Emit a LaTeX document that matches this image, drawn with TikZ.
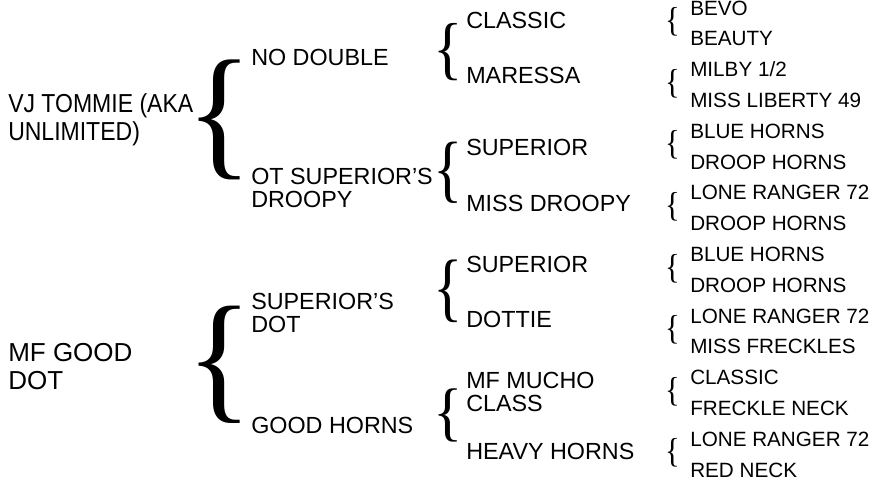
\documentclass[tikz,border=0pt]{standalone}
\usepackage{graphicx}
\usepackage{fontspec}
\setmainfont{Liberation Sans}
\newfontfamily\narrowsans[FakeStretch=0.885]{Liberation Sans}
\newfontfamily\bracefont{Liberation Serif}

\tikzset{
    rootname/.style={anchor=north west, inner sep=0pt, align=left, font=\fontsize{19.5}{21}\selectfont},
    parentname/.style={anchor=base west, inner sep=0pt, align=left, font=\fontsize{17.5}{17}\selectfont},
    greatname/.style={anchor=base west, inner sep=0pt, font=\fontsize{15.5}{16}\selectfont},
    curly/.style={inner sep=0pt, font=\bracefont\fontsize{20}{20}\selectfont}
}
% brace glyph stretched to box width / total height
\newcommand{\curlyglyph}[2]{\resizebox*{#1}{#2}{\{}}

\begin{document}
\begin{tikzpicture}[x=0.75pt,y=-0.75pt]
    \useasboundingbox (0,0) rectangle (882,486);
    % the two horses
    \node[rootname, font=\narrowsans\fontsize{19.5}{21}\selectfont] (tommie) at (8,93) {VJ TOMMIE (AKA\\UNLIMITED)};
    \node[rootname] (gooddot) at (8,343) {MF GOOD\\DOT};
    % sires and dams
    \node[parentname] (nodouble) at (251,65) {NO DOUBLE};
    \node[parentname, anchor=north west] (otdroopy) at (251,168) {OT SUPERIOR'S\\DROOPY};
    \node[parentname, anchor=north west] (supdot) at (251,293) {SUPERIOR'S\\DOT};
    \node[parentname] (goodhorns) at (251,433) {GOOD HORNS};
    % grandparents
    \node[parentname] (classic) at (466,28) {CLASSIC};
    \node[parentname] (maressa) at (466,83) {MARESSA};
    \node[parentname] (superiorA) at (466,155) {SUPERIOR};
    \node[parentname] (missdroopy) at (466,211) {MISS DROOPY};
    \node[parentname] (superiorB) at (466,272) {SUPERIOR};
    \node[parentname] (dottie) at (466,327) {DOTTIE};
    \node[parentname, anchor=north west] (mucho) at (466,372) {MF MUCHO\\CLASS};
    \node[parentname] (heavyhorns) at (466,459) {HEAVY HORNS};
    % great grandparents
    \foreach \name [count=\i from 0] in {BEVO, BEAUTY, MILBY 1/2, MISS LIBERTY 49,
            BLUE HORNS, DROOP HORNS, LONE RANGER 72, DROOP HORNS,
            BLUE HORNS, DROOP HORNS, LONE RANGER 72, MISS FRECKLES,
            CLASSIC, FRECKLE NECK, LONE RANGER 72, RED NECK} {
            \node[greatname] (great\i) at (690,15+30.8*\i) {\name};
        }
    % braces
    \node[curly] (tommiebrace) at (219.5,119.5) {\curlyglyph{49.6pt}{90pt}};
    \node[curly] (gooddotbrace) at (219.5,365) {\curlyglyph{49.6pt}{88pt}};
    \foreach \y/\h [count=\k] in {52.5/43, 172.5/46, 291/47, 415/40} {
            \node[curly] (parentbrace\k) at (448,\y) {\curlyglyph{22pt}{\h pt}};
        }
    \foreach \k in {0,...,7} {
            \node[curly] (greatbrace\k) at (672.5,22+61.6*\k) {\curlyglyph{11pt}{21.5pt}};
        }
\end{tikzpicture}
\end{document}
